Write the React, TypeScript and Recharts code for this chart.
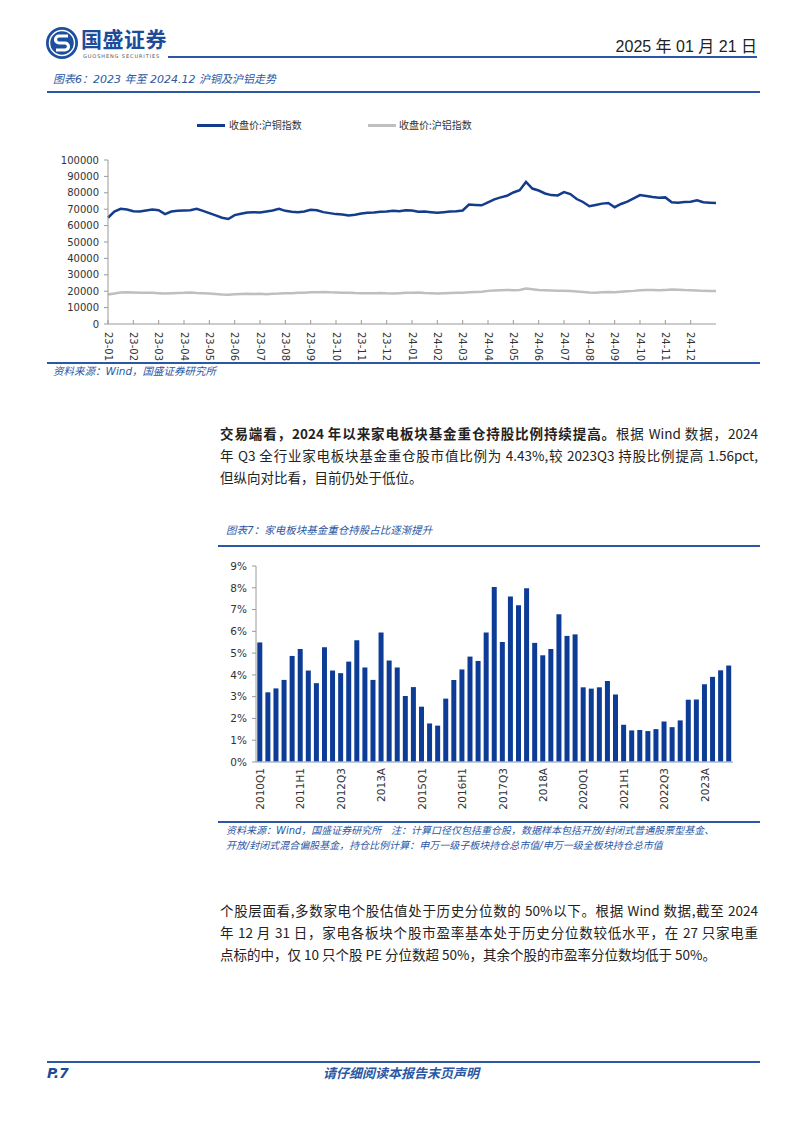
import React from "react";
import { LineChart, Line, XAxis, YAxis, BarChart, Bar } from "recharts";

// ---- 图表6 沪铜 / 沪铝 ----
const monthLabels = [
  "23-01", "23-02", "23-03", "23-04", "23-05", "23-06", "23-07", "23-08",
  "23-09", "23-10", "23-11", "23-12", "24-01", "24-02", "24-03", "24-04",
  "24-05", "24-06", "24-07", "24-08", "24-09", "24-10", "24-11", "24-12",
];

// 收盘价:沪铜指数, four readings per month
const copperByMonth = [
  [64800, 68500, 70200, 69800],
  [68800, 68600, 69200, 69800],
  [69400, 67000, 68600, 69000],
  [69200, 69400, 70200, 69000],
  [67600, 66200, 64800, 64000],
  [66400, 67200, 68000, 68200],
  [68000, 68600, 69200, 70200],
  [69000, 68400, 68200, 68600],
  [69600, 69400, 68200, 67600],
  [67000, 66800, 66200, 66600],
  [67400, 67800, 68000, 68400],
  [68600, 69000, 68800, 69400],
  [69200, 68400, 68600, 68200],
  [67800, 68200, 68600, 68800],
  [69200, 72800, 72600, 72400],
  [74200, 76000, 77200, 78200],
  [80200, 81600, 86600, 82600],
  [81400, 79600, 78600, 78400],
  [80400, 79200, 76200, 74400],
  [71800, 72600, 73400, 73800],
  [71200, 73200, 74600, 76600],
  [78600, 78000, 77400, 77000],
  [77200, 74200, 74000, 74400],
  [74600, 75400, 74200, 74000],
];
const copperClose = 73800;

// 收盘价:沪铝指数
const aluminumByMonth = [
  [18000, 18600, 19200, 19400],
  [19200, 19000, 19100, 19000],
  [18800, 18600, 18800, 18900],
  [19000, 19200, 18900, 18800],
  [18600, 18300, 18000, 17900],
  [18200, 18300, 18400, 18300],
  [18400, 18200, 18500, 18600],
  [18800, 18700, 19000, 19100],
  [19300, 19400, 19500, 19300],
  [19200, 19000, 19100, 18900],
  [18800, 18700, 18800, 18900],
  [18700, 18600, 18800, 19000],
  [19000, 19200, 18900, 18800],
  [18600, 18800, 18900, 19000],
  [19100, 19300, 19500, 19700],
  [20200, 20400, 20600, 20800],
  [20600, 20800, 21600, 21200],
  [20800, 20600, 20400, 20200],
  [20300, 20100, 19800, 19500],
  [19200, 19000, 19300, 19500],
  [19300, 19600, 19900, 20200],
  [20600, 20800, 20700, 20600],
  [20800, 21000, 20900, 20700],
  [20600, 20500, 20200, 20100],
];
const aluminumClose = 20100;

const priceTicks = [0, 10000, 20000, 30000, 40000, 50000, 60000, 70000, 80000, 90000, 100000];

// ---- 图表7 家电板块基金重仓持股占比 ----
const periodLabels = [
  "2010Q1", "2010H1", "2010Q3", "2010A", "2011Q1", "2011H1", "2011Q3", "2011A",
  "2012Q1", "2012H1", "2012Q3", "2012A", "2013Q1", "2013H1", "2013Q3", "2013A",
  "2014Q1", "2014H1", "2014Q3", "2014A", "2015Q1", "2015H1", "2015Q3", "2015A",
  "2016Q1", "2016H1", "2016Q3", "2016A", "2017Q1", "2017H1", "2017Q3", "2017A",
  "2018Q1", "2018H1", "2018Q3", "2018A", "2019Q1", "2019H1", "2019Q3", "2019A",
  "2020Q1", "2020H1", "2020Q3", "2020A", "2021Q1", "2021H1", "2021Q3", "2021A",
  "2022Q1", "2022H1", "2022Q3", "2022A", "2023Q1", "2023H1", "2023Q3", "2023A",
  "2024Q1", "2024H1", "2024Q3",
];
const holdingRatio = [
  5.49, 3.2, 3.38, 3.77, 4.87, 5.19, 4.2, 3.62, 5.27, 4.2,
  4.08, 4.61, 5.59, 4.34, 3.77, 5.95, 4.66, 4.34, 3.03, 3.44,
  2.54, 1.77, 1.67, 2.91, 3.76, 4.25, 4.84, 4.64, 5.95, 8.04,
  5.51, 7.6, 7.2, 7.98, 5.47, 4.9, 5.19, 6.78, 5.79, 5.86,
  3.43, 3.37, 3.43, 3.72, 3.1, 1.71, 1.45, 1.47, 1.42, 1.51,
  1.86, 1.6, 1.91, 2.86, 2.87, 3.57, 3.91, 4.21, 4.43,
];
const ratioTicks = [0, 1, 2, 3, 4, 5, 6, 7, 8, 9];

const lineData: { x: number; copper: number; aluminum: number }[] = [];
copperByMonth.forEach((vals, m) => {
  vals.forEach((v, k) => {
    lineData.push({ x: m + k / vals.length, copper: v, aluminum: aluminumByMonth[m][k] });
  });
});
lineData.push({ x: monthLabels.length, copper: copperClose, aluminum: aluminumClose });

const barData = periodLabels.map((p, i) => ({ period: p, ratio: holdingRatio[i] }));

const BLUE = "#2B57A4";
const AXIS = "#9A9A9A";
const LATIN = "'DejaVu Sans', 'Noto Sans CJK SC', sans-serif";
const CJK = "'Noto Sans CJK SC', 'DejaVu Sans', sans-serif";

function MonthTick({ x, y, payload }: any) {
  return (
    <g>
      <line x1={x} x2={x} y1={y} y2={y - 4} stroke={AXIS} />
      <text
        transform={`translate(${x},${y + 8}) rotate(90)`}
        textAnchor="start"
        dominantBaseline="central"
        fontSize={10}
        fill="#333"
        fontFamily={LATIN}
      >
        {monthLabels[payload.value]}
      </text>
    </g>
  );
}

function PeriodTick({ x, y, payload }: any) {
  return (
    <text
      transform={`translate(${x},${y + 6}) rotate(-90)`}
      textAnchor="end"
      dominantBaseline="central"
      fontSize={10.5}
      fill="#333"
      fontFamily={LATIN}
    >
      {payload.value}
    </text>
  );
}

function Rule({ left, top, width }: { left: number; top: number; width: number }) {
  return <div style={{ position: "absolute", left, top, width, height: 2, background: BLUE }} />;
}

function Caption({ left, top, children, size = 11 }: any) {
  return (
    <div
      style={{
        position: "absolute",
        left,
        top,
        fontSize: size,
        lineHeight: "15px",
        color: BLUE,
        fontStyle: "italic",
        fontFamily: LATIN,
        whiteSpace: "nowrap",
      }}
    >
      {children}
    </div>
  );
}

function TextLine({ top, children, last = false }: any) {
  return (
    <div
      style={{
        position: "absolute",
        left: 220,
        top,
        width: 538,
        fontSize: 13.5,
        lineHeight: "22px",
        color: "#222",
        fontFamily: CJK,
        whiteSpace: "nowrap",
        textAlign: "justify",
        textAlignLast: last ? "left" : "justify",
      }}
    >
      {children}
    </div>
  );
}

export default function App() {
  return (
    <div
      style={{
        position: "relative",
        width: 802,
        height: 1133,
        margin: -8,
        background: "#fff",
        overflow: "hidden",
        fontFamily: CJK,
      }}
    >
      <div style={{ position: "absolute", inset: 0, border: "1px solid #9a9a9a", boxSizing: "border-box" }} />

      {/* header */}
      <svg width={34} height={34} style={{ position: "absolute", left: 45, top: 26 }}>
        <circle cx={17} cy={17} r={16} fill="#1D4F9F" />
        <circle cx={17} cy={17} r={12.5} fill="none" stroke="#fff" strokeWidth={1.5} />
        <path d="M23 10 H14 a3.5 3.5 0 0 0 0 7 h6 a3.5 3.5 0 0 1 0 7 H11" stroke="#fff" strokeWidth={3.2} fill="none" />
      </svg>
      <div style={{ position: "absolute", left: 81, top: 28, fontSize: 21, fontWeight: 700, color: "#1E4A9A", letterSpacing: 0.5, lineHeight: "21px" }}>
        国盛证券
      </div>
      <div style={{ position: "absolute", left: 83, top: 53, fontSize: 5, lineHeight: "6px", color: "#555", letterSpacing: 0.9, fontFamily: LATIN }}>
        GUOSHENG SECURITIES
      </div>
      <div
        style={{
          position: "absolute",
          right: 45,
          top: 37,
          fontSize: 16,
          lineHeight: "20px",
          color: "#222",
          fontFamily: "'Liberation Sans Narrow', 'Liberation Sans', 'Noto Sans CJK SC', sans-serif",
        }}
      >
        2025 年 01 月 21 日
      </div>
      <Rule left={168} top={56} width={589} />

      {/* figure 6 */}
      <Caption left={53} top={72}>图表6：2023 年至 2024.12 沪铜及沪铝走势</Caption>
      <Rule left={47} top={91} width={713} />

      <div style={{ position: "absolute", left: 197, top: 124, width: 28, height: 3, background: "#143C8C" }} />
      <div style={{ position: "absolute", left: 229, top: 118, fontSize: 10, lineHeight: "14px", color: "#333" }}>收盘价:沪铜指数</div>
      <div style={{ position: "absolute", left: 368, top: 124, width: 28, height: 3, background: "#BFBFBF" }} />
      <div style={{ position: "absolute", left: 399, top: 118, fontSize: 10, lineHeight: "14px", color: "#333" }}>收盘价:沪铝指数</div>

      <div style={{ position: "absolute", left: 40, top: 100 }}>
        <LineChart width={700} height={270} data={lineData} margin={{ top: 60, right: 24, bottom: 6, left: 8 }}>
          <XAxis
            type="number"
            dataKey="x"
            domain={[0, monthLabels.length]}
            ticks={monthLabels.map((_, i) => i)}
            interval={0}
            tick={<MonthTick />}
            tickLine={false}
            tickSize={0}
            tickMargin={0}
            height={40}
            stroke={AXIS}
          />
          <YAxis
            domain={[0, 100000]}
            ticks={priceTicks}
            interval={0}
            width={60}
            tickSize={4}
            tickMargin={5}
            stroke={AXIS}
            tick={{ fontSize: 10, fill: "#333", fontFamily: LATIN }}
          />
          <Line dataKey="aluminum" stroke="#BFBFBF" strokeWidth={2.5} dot={false} isAnimationActive={false} />
          <Line dataKey="copper" stroke="#143C8C" strokeWidth={2.5} dot={false} isAnimationActive={false} />
        </LineChart>
      </div>

      <Rule left={47} top={362} width={713} />
      <Caption left={53} top={364} size={10.5}>资料来源：Wind，国盛证券研究所</Caption>

      {/* paragraph 1 */}
      <TextLine top={422}>
        <b>交易端看，2024 年以来家电板块基金重仓持股比例持续提高。</b>根据 Wind 数据，2024
      </TextLine>
      <TextLine top={444}>年 Q3 全行业家电板块基金重仓股市值比例为 4.43%,较 2023Q3 持股比例提高 1.56pct,</TextLine>
      <TextLine top={466} last>但纵向对比看，目前仍处于低位。</TextLine>

      {/* figure 7 */}
      <Caption left={226} top={523} size={10.5}>图表7：家电板块基金重仓持股占比逐渐提升</Caption>
      <Rule left={218} top={545} width={542} />

      <div style={{ position: "absolute", left: 200, top: 550 }}>
        <BarChart width={560} height={270} data={barData} margin={{ top: 16, right: 27, bottom: 6, left: 6 }} barCategoryGap="16%">
          <XAxis
            dataKey="period"
            interval={4}
            tick={<PeriodTick />}
            tickLine={false}
            tickSize={0}
            tickMargin={0}
            height={52}
            stroke="#A9B7D0"
            strokeWidth={1.5}
          />
          <YAxis
            domain={[0, 9]}
            ticks={ratioTicks}
            interval={0}
            width={50}
            tickSize={4}
            tickMargin={5}
            stroke={AXIS}
            tickFormatter={(v) => `${v}%`}
            tick={{ fontSize: 10.5, fill: "#333", fontFamily: LATIN }}
          />
          <Bar dataKey="ratio" fill="#0D3C96" isAnimationActive={false} />
        </BarChart>
      </div>

      <Rule left={218} top={821} width={542} />
      <Caption left={226} top={823} size={10}>
        资料来源：Wind，国盛证券研究所&nbsp;&nbsp;&nbsp;注：计算口径仅包括重仓股，数据样本包括开放/封闭式普通股票型基金、
      </Caption>
      <Caption left={226} top={838} size={10}>
        开放/封闭式混合偏股基金，持仓比例计算：申万一级子板块持仓总市值/申万一级全板块持仓总市值
      </Caption>

      {/* paragraph 2 */}
      <TextLine top={899}>个股层面看,多数家电个股估值处于历史分位数的 50%以下。根据 Wind 数据,截至 2024</TextLine>
      <TextLine top={921}>年 12 月 31 日，家电各板块个股市盈率基本处于历史分位数较低水平，在 27 只家电重</TextLine>
      <TextLine top={943} last>点标的中，仅 10 只个股 PE 分位数超 50%，其余个股的市盈率分位数均低于 50%。</TextLine>

      {/* footer */}
      <Rule left={47} top={1061} width={713} />
      <div style={{ position: "absolute", left: 47, top: 1064, fontSize: 14, lineHeight: "18px", fontWeight: 700, fontStyle: "italic", color: "#1E4A9A", fontFamily: LATIN }}>
        P.7
      </div>
      <div style={{ position: "absolute", left: 0, width: 802, top: 1064, textAlign: "center", fontSize: 13, lineHeight: "18px", fontWeight: 700, fontStyle: "italic", color: BLUE }}>
        请仔细阅读本报告末页声明
      </div>
    </div>
  );
}
